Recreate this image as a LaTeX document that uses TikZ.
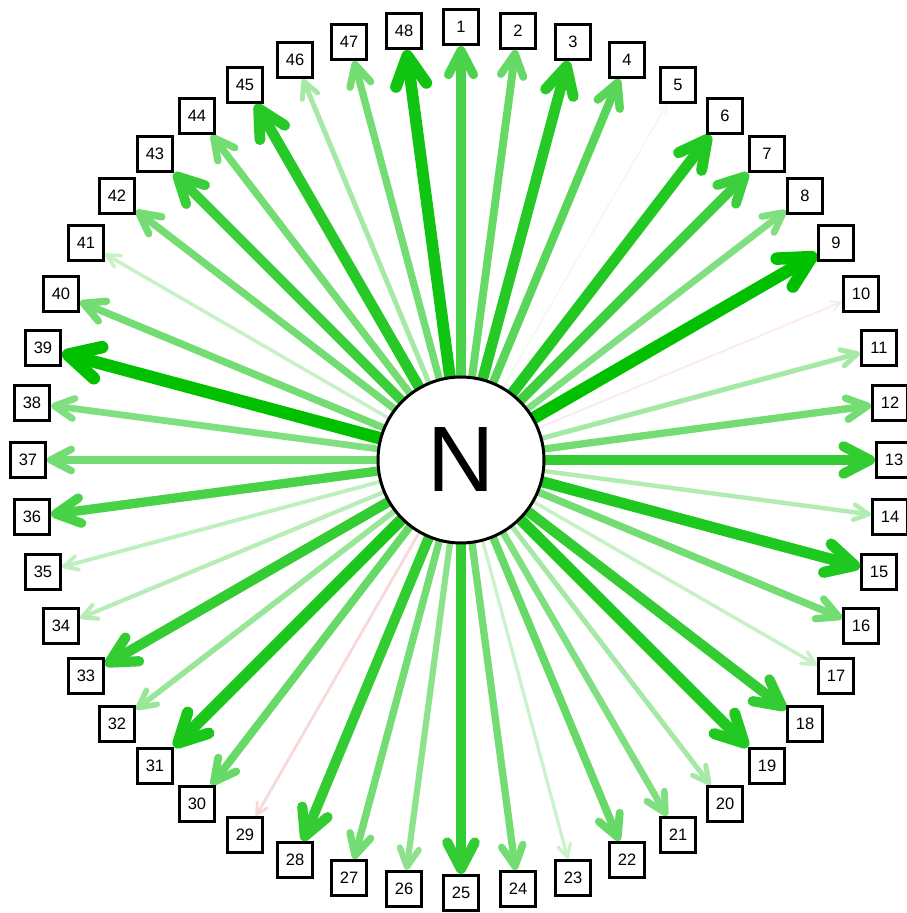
\documentclass[tikz,border=0pt]{standalone}
\usepackage{fontspec}
\setmainfont{Liberation Sans}
\usetikzlibrary{arrows.meta,backgrounds}
\definecolor{pos}{RGB}{0,192,0}
\definecolor{neg}{RGB}{200,0,0}
\begin{document}
\begin{tikzpicture}[x=1pt,y=1pt,
  lab/.style={draw=black, line width=3pt, fill=white, minimum width=35pt, minimum height=35pt, inner sep=0pt, font=\fontsize{16.5}{19}\selectfont},
  hub/.style={circle, draw=black, line width=3pt, fill=white, minimum size=166pt, inner sep=0pt, font=\fontsize{93}{100}\selectfont},
  edge/.style={line cap=round, -{Straight Barb[length=6pt 2.0, width=6pt 2.1, round]}}]
\useasboundingbox (0,0) rectangle (906,913);
\node[hub] (N) at (461,453) {N};
\foreach \k in {1,...,48}{
  \pgfmathsetmacro{\ang}{90-(\k-1)*7.5}
  \pgfmathsetmacro{\bx}{round(461+433*cos(\ang))}
  \pgfmathsetmacro{\by}{round(453+433*sin(\ang))}
  \node[lab] (b\k) at (\bx,\by) {\k};
}
\begin{pgfonlayer}{background}
\foreach \k/\p/\c in {1/70/pos,2/60/pos,3/85/pos,4/65/pos,5/6/pos,6/87/pos,7/76/pos,8/50/pos,
  9/100/pos,10/8/neg,11/35/pos,12/55/pos,13/80/pos,14/30/pos,15/88/pos,16/55/pos,
  17/22/pos,18/80/pos,19/87/pos,20/35/pos,21/50/pos,22/60/pos,23/20/pos,24/55/pos,
  25/80/pos,26/45/pos,27/55/pos,28/80/pos,29/15/neg,30/60/pos,31/90/pos,32/40/pos,
  33/80/pos,34/28/pos,35/25/pos,36/72/pos,37/55/pos,38/50/pos,39/100/pos,40/55/pos,
  41/22/pos,42/55/pos,43/77/pos,44/55/pos,45/85/pos,46/35/pos,47/55/pos,48/93/pos}{
  \pgfmathsetmacro{\lw}{1+11.5*\p/100}
  \draw[edge, line width=\lw pt, draw=\c!\p!white] (N) -- (b\k);
}
\end{pgfonlayer}
\end{tikzpicture}
\end{document}
